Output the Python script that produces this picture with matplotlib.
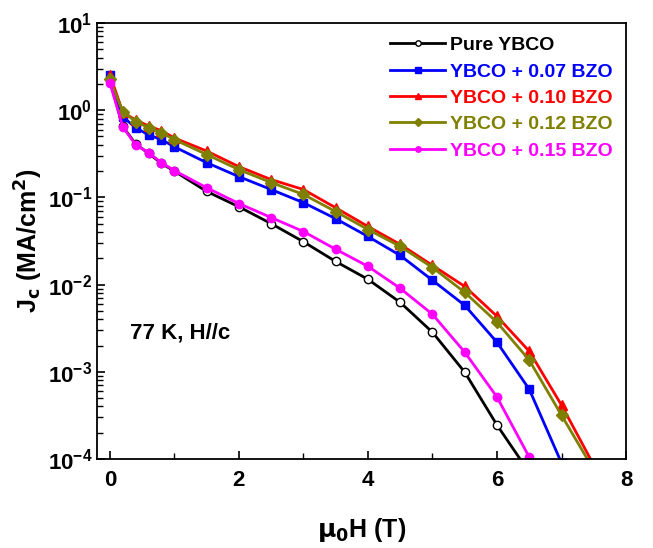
import matplotlib
matplotlib.use("Agg")
import matplotlib.pyplot as plt
import numpy as np

plt.rcParams['font.family'] = ['Liberation Sans', 'DejaVu Sans']
plt.rcParams['font.weight'] = 'bold'
plt.rcParams['mathtext.default'] = 'bf'

field = [0, 0.2, 0.4, 0.6, 0.8, 1.0, 1.5, 2.0, 2.5, 3.0, 3.5, 4.0, 4.5, 5.0, 5.5, 6.0, 6.5, 7.0, 7.5]

jc_pure = [2.2, 0.65, 0.41, 0.32, 0.245, 0.20, 0.117, 0.078, 0.050, 0.031, 0.0184,
           0.0115, 0.00625, 0.00284, 0.00099, 0.000245, 7e-5]
jc_007 = [2.5, 0.84, 0.63, 0.52, 0.46, 0.38, 0.25, 0.173, 0.123, 0.087, 0.057,
          0.0356, 0.0216, 0.0112, 0.00578, 0.00218, 0.00063, 9e-5]
jc_010 = [2.55, 0.95, 0.77, 0.66, 0.58, 0.48, 0.34, 0.225, 0.16, 0.123, 0.076,
          0.0464, 0.0289, 0.0166, 0.00953, 0.00433, 0.00172, 0.000415, 8.5e-5]
jc_012 = [2.25, 0.96, 0.74, 0.63, 0.55, 0.46, 0.31, 0.208, 0.148, 0.108, 0.0687,
          0.0428, 0.0274, 0.0157, 0.00815, 0.0037, 0.00136, 0.000318, 7.5e-5]
jc_015 = [2.05, 0.645, 0.40, 0.326, 0.25, 0.203, 0.129, 0.085, 0.0587, 0.0406, 0.0254,
          0.0162, 0.00906, 0.00456, 0.00168, 0.000513, 0.000105]

labels = ['Pure YBCO', 'YBCO + 0.07 BZO', 'YBCO + 0.10 BZO', 'YBCO + 0.12 BZO', 'YBCO + 0.15 BZO']

fig = plt.figure(figsize=(6.53, 5.48), dpi=100)
ax = fig.add_axes([0.1485, 0.1624, 0.8102, 0.7957])

ax.plot(field[:len(jc_pure)], jc_pure, color='black', lw=2, marker='o', ms=6,
        mfc='white', mec='black', label=labels[0])
ax.plot(field[:len(jc_007)], jc_007, color='blue', lw=2, marker='s', ms=6, label=labels[1])
ax.plot(field[:len(jc_010)], jc_010, color='red', lw=2, marker='^', ms=7, label=labels[2])
ax.plot(field[:len(jc_012)], jc_012, color='#808000', lw=2, marker='D', ms=6, label=labels[3])
ax.plot(field[:len(jc_015)], jc_015, color='magenta', lw=2, marker='o', ms=6, label=labels[4])

ax.set_yscale('log')
ax.set_xlim(-0.2, 8)
ax.set_ylim(1e-4, 10)
decades = 10.0 ** np.arange(-4, 1)
ax.set_yticks(10.0 ** np.arange(-4, 2))
ax.set_yticks((decades[:, None] * np.arange(2, 10)[None, :]).ravel(), minor=True)
ax.set_yticklabels([], minor=True)
ax.set_xticks([0, 2, 4, 6, 8])
ax.set_xticks([1, 3, 5, 7], minor=True)
ax.tick_params(which='both', direction='in', top=False, right=False, labelsize=16)
ax.tick_params(axis='x', pad=8)
ax.tick_params(which='major', length=6, width=1.2)
ax.tick_params(which='minor', length=4, width=1)
for s in ax.spines.values():
    s.set_linewidth(1.3)

ax.set_xlabel(r'$\mu_0$H (T)', fontsize=18, fontweight='bold', labelpad=18)
ax.set_ylabel(r'J$_c$ (MA/cm$^2$)', fontsize=18, fontweight='bold', labelpad=2)

ax.text(0.062, 0.29, '77 K, H//c', transform=ax.transAxes, fontsize=16,
        fontweight='bold', va='center')

leg = ax.legend(loc='upper right', frameon=False, fontsize=14, handlelength=2.8,
                borderaxespad=0.3, labelspacing=0.45, handletextpad=0.25,
                markerscale=0.65)
for t, l in zip(leg.get_texts(), leg.get_lines()):
    t.set_color(l.get_color())

fig.savefig('out.png', dpi=100)
